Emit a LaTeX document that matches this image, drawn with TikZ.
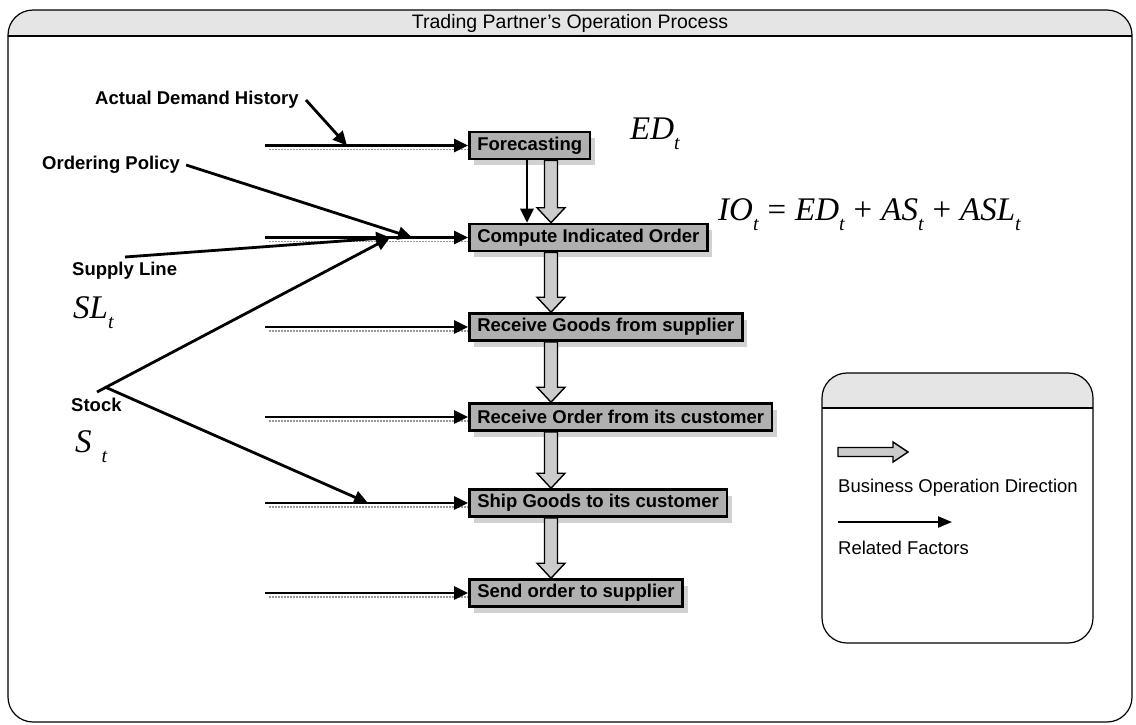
\documentclass[tikz,border=0pt]{standalone}
\usepackage{fontspec}
\setmainfont{Liberation Sans}
\newfontfamily\tms{Liberation Serif}
\usetikzlibrary{arrows.meta,shadows,calc}

\definecolor{boxgray}{gray}{0.69}
\definecolor{arrowgray}{gray}{0.80}
\definecolor{headgray}{gray}{0.90}
\definecolor{shadegray}{gray}{0.82}

% italic subscript t, set lower and smaller than the base letters
\newcommand{\tsub}{\raisebox{-0.32em}{\fontsize{20}{20}\selectfont t}}
% operator with the generous spacing of an equation editor
\newcommand{\op}[1]{\hspace{9pt}{\upshape #1}\hspace{9pt}}

% hollow downward block arrow between two points
\newcommand{\flowdown}[2]{%
  \draw[flowarrow] let \p1=(#1), \p2=(#2) in
    (\x1-6.5pt,\y1) -- (\x1+6.5pt,\y1) -- (\x1+6.5pt,\y2+15pt) -- (\x1+14pt,\y2+15pt)
    -- (\x1,\y2) -- (\x1-14pt,\y2+15pt) -- (\x1-6.5pt,\y2+15pt) -- cycle;}

\tikzset{
  stepbox/.style={draw=black, line width=2.6pt, fill=boxgray, inner xsep=8pt, inner ysep=0pt,
    minimum height=27pt, anchor=west, font=\fontsize{18.5}{20}\selectfont\bfseries,
    drop shadow={shadow xshift=5pt, shadow yshift=-6pt, fill=shadegray, opacity=1}},
  factor/.style={line width=2.8pt, -{Triangle[length=14pt,width=13pt]}},
  factorshade/.style={line width=1.6pt, draw=black!40, dash pattern=on 1.5pt off 1.5pt},
  lbl/.style={font=\fontsize{18.5}{20}\selectfont\bfseries, inner sep=0pt, anchor=west},
  legtxt/.style={font=\fontsize{18.5}{20}\selectfont, inner sep=0pt, anchor=west},
  mvar/.style={font=\tms\itshape\fontsize{33}{36}\selectfont, inner sep=0pt, anchor=base west},
  flowarrow/.style={draw=black, line width=1.4pt, fill=arrowgray, line join=miter},
  frame/.style={draw=black, line width=1.2pt, rounded corners=25pt},
}

\begin{document}
\begin{tikzpicture}[x=1pt,y=-1pt]
\useasboundingbox (0,0) rectangle (1136,724);

% outer frame with title band
\begin{scope}
  \clip[rounded corners=25pt] (8,10) rectangle (1132,722);
  \fill[headgray] (8,10) rectangle (1132,36);
\end{scope}
\draw[frame] (8,10) rectangle (1132,722);
\draw[line width=1.6pt] (8,36) -- (1132,36);
\node[font=\fontsize{19.5}{22}\selectfont] (title) at (570,23) {Trading Partner's Operation Process};

% process steps
\node[stepbox] (fc) at (468,145.5) {Forecasting};
\node[stepbox] (ci) at (468,237.5) {Compute Indicated Order};
\node[stepbox] (rg) at (468,327) {Receive Goods from supplier};
\node[stepbox] (ro) at (468,417) {Receive Order from its customer};
\node[stepbox] (sg) at (468,503) {Ship Goods to its customer};
\node[stepbox] (so) at (468,593) {Send order to supplier};

% business operation direction
\coordinate (col) at (551,0);
\flowdown{col |- fc.south}{col |- ci.north}
\flowdown{col |- ci.south}{col |- rg.north}
\flowdown{col |- rg.south}{col |- ro.north}
\flowdown{col |- ro.south}{col |- sg.north}
\flowdown{col |- sg.south}{col |- so.north}

% forecast feeds the order computation
\coordinate (fcol) at (527,0);
\draw[factor] (fcol |- fc.south) -- (fcol |- ci.north);

% related factor inputs
\coordinate (in1) at (265,145.5);
\coordinate (in2) at (265,237.5);
\coordinate (in3) at (265,327);
\coordinate (in4) at (265,417);
\coordinate (in5) at (265,503);
\coordinate (in6) at (265,593);
\foreach \n/\b in {in1/fc,in2/ci,in3/rg,in4/ro,in5/sg,in6/so}{
  \draw[factorshade] ([xshift=4pt,yshift=-4pt]\n) -- ([yshift=-4pt]\b.west);
  \draw[factor] (\n) -- (\b.west);
}

% factor labels
\node[lbl] (adh) at (95,100) {Actual Demand History};
\node[lbl] (op) at (42,165) {Ordering Policy};
\node[lbl] (sl) at (72,271) {Supply Line};
\node[lbl] (st) at (71,405) {Stock};

\coordinate (adhend) at (347,145.5);
\coordinate (opend) at (412,237.5);
\coordinate (jn) at (390,237.5);
\coordinate (slstart) at (125,257);
\coordinate (stv) at (105,387);
\coordinate (stk) at (97,392);
\coordinate (stlow) at (368,503);

\draw[factor] ([xshift=7pt]adh.east) -- (adhend);
\draw[factor] ([xshift=6pt]op.east) -- (opend);
\draw[factor] (slstart) -- (jn);
\draw[factor] (stk) -- (jn);
\draw[factor] (stv) -- (stlow);

% variables
\node[mvar] (slt) at (73,318) {SL\tsub};
\node[mvar] (stt) at (75,452) {S\hspace{10pt}\tsub};
\node[mvar] (edt) at (630,139) {ED\tsub};
\node[mvar] (iot) at (718,220) {IO\tsub\op{=}ED\tsub\op{+}AS\tsub\op{+}ASL\tsub};

% legend
\begin{scope}
  \clip[rounded corners=25pt] (822,373) rectangle (1093,643);
  \fill[headgray] (822,373) rectangle (1093,408);
\end{scope}
\draw[frame] (822,373) rectangle (1093,643);
\draw[line width=1.4pt] (822,408) -- (1093,408);
\coordinate (lga) at (838,452);
\coordinate (lgb) at (908,452);
\draw[flowarrow] let \p1=(lga), \p2=(lgb) in
  (\x1,\y1+4.5pt) -- (\x2-15pt,\y1+4.5pt) -- (\x2-15pt,\y1+10pt) -- (\x2,\y1)
  -- (\x2-15pt,\y1-10pt) -- (\x2-15pt,\y1-4.5pt) -- (\x1,\y1-4.5pt) -- cycle;
\node[legtxt] (bod) at (838,488) {Business Operation Direction};
\coordinate (lra) at (838,522);
\coordinate (lrb) at (952,522);
\draw[line width=2.2pt, -{Triangle[length=14pt,width=11pt]}] (lra) -- (lrb);
\node[legtxt] (rf) at (838,548) {Related Factors};
\end{tikzpicture}
\end{document}
